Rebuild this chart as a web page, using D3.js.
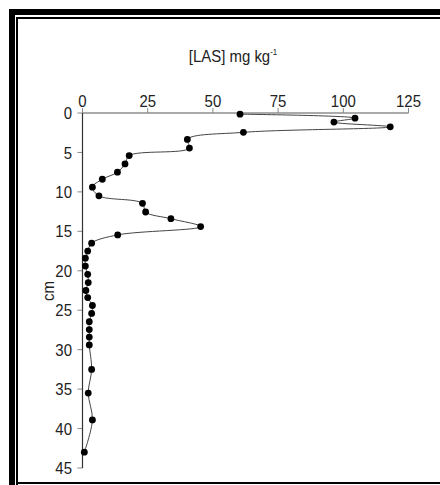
<!DOCTYPE html>
<html>
<head>
<meta charset="utf-8">
<script src="https://cdn.jsdelivr.net/npm/d3@7"></script>
<style>
  body { margin: 0; background: #fff; }
  text { font-family: Arial, "Liberation Sans", sans-serif; fill: #222; }
</style>
</head>
<body>
<svg id="chart" width="440" height="485"></svg>
<script>
// LAS concentration profile vs. depth
var depth = [0.15, 0.65, 1.15, 1.75, 2.45, 3.35, 4.45, 5.4, 6.45, 7.5, 8.4, 9.4, 10.5,
  11.45, 12.55, 13.4, 14.4, 15.45, 16.5, 17.5, 18.4, 19.4, 20.45, 21.5, 22.5, 23.4,
  24.4, 25.4, 26.45, 27.45, 28.4, 29.4, 32.5, 35.5, 38.9, 43]
var las = [60.4, 104.5, 96.4, 118, 61.7, 40.2, 41, 17.9, 16.3, 13.4, 7.6, 3.8, 6.3,
  23, 24.2, 33.9, 45.3, 13.5, 3.5, 2, 1.1, 1.1, 2, 2.2, 1.3, 2,
  3.8, 3.5, 2.6, 2.6, 2.6, 2.6, 3.5, 2.2, 3.8, 0.7]
var xTicks = [0, 25, 50, 75, 100, 125]
var yTicks = [0, 5, 10, 15, 20, 25, 30, 35, 40, 45]

// text is a bit condensed
var squeeze = 'scale(0.88,1)'

var svg = d3.select('#chart')

// double frame
svg.append('rect').attr('x', 9).attr('y', 9).attr('width', 440).attr('height', 6).attr('fill', '#000')
svg.append('rect').attr('x', 9).attr('y', 9).attr('width', 6).attr('height', 480).attr('fill', '#000')
svg.append('rect').attr('x', 16).attr('y', 17).attr('width', 430).attr('height', 2).attr('fill', '#000')
svg.append('rect').attr('x', 16).attr('y', 17).attr('width', 2).attr('height', 470).attr('fill', '#000')
svg.append('rect').attr('x', 16).attr('y', 482).attr('width', 430).attr('height', 2).attr('fill', '#000')

var x = d3.scaleLinear().domain([0, 125]).range([82.5, 408.5])
var y = d3.scaleLinear().domain([0, 45]).range([113, 468])

// top axis (grey)
var gx = svg.append('g')
gx.append('line')
  .attr('x1', x(0)).attr('x2', x(125)).attr('y1', y(0)).attr('y2', y(0))
  .attr('stroke', '#aaa').attr('stroke-width', 2)
gx.selectAll('line.tick').data(xTicks).enter().append('line')
  .attr('class', 'tick')
  .attr('x1', d => x(d)).attr('x2', d => x(d))
  .attr('y1', y(0)).attr('y2', y(0) - 5)
  .attr('stroke', '#888').attr('stroke-width', 1)
gx.selectAll('text').data(xTicks).enter().append('text')
  .attr('transform', d => 'translate(' + x(d) + ',107) ' + squeeze)
  .attr('text-anchor', 'middle')
  .style('font-size', '17px')
  .text(d => d)

// left axis
var gy = svg.append('g')
gy.selectAll('line.tick').data(yTicks).enter().append('line')
  .attr('class', 'tick')
  .attr('x1', x(0) - 5).attr('x2', x(0))
  .attr('y1', d => y(d)).attr('y2', d => y(d))
  .attr('stroke', '#888').attr('stroke-width', 1)
gy.append('line')
  .attr('x1', x(0)).attr('x2', x(0)).attr('y1', y(0)).attr('y2', y(45))
  .attr('stroke', '#333').attr('stroke-width', 1.2)
gy.selectAll('text').data(yTicks).enter().append('text')
  .attr('transform', d => 'translate(72,' + y(d) + ') ' + squeeze)
  .attr('dy', '0.36em')
  .attr('text-anchor', 'end')
  .style('font-size', '17px')
  .text(d => d)

// axis titles
var title = svg.append('text')
  .attr('transform', 'translate(233,62) ' + squeeze)
  .attr('text-anchor', 'middle')
  .style('font-size', '17px')
title.append('tspan').text('[LAS] mg kg')
title.append('tspan').attr('dy', -7).style('font-size', '9px').text('-1')

svg.append('text')
  .attr('transform', 'translate(54,291) rotate(-90) ' + squeeze)
  .attr('text-anchor', 'middle')
  .style('font-size', '17px')
  .text('cm')

// profile line + markers
var pts = depth.map((d, i) => ({ depth: d, v: las[i] }))
var line = d3.line()
  .x(d => x(d.v))
  .y(d => y(d.depth))
  .curve(d3.curveCatmullRom.alpha(0.5))

svg.append('path')
  .datum(pts)
  .attr('d', line)
  .attr('fill', 'none')
  .attr('stroke', '#444')
  .attr('stroke-width', 1)

svg.selectAll('circle.node')
  .data(pts)
  .enter()
  .append('circle')
  .attr('class', 'node')
  .attr('cx', d => x(d.v))
  .attr('cy', d => y(d.depth))
  .attr('r', 3.4)
  .style('fill', '#000')
</script>
</body>
</html>
